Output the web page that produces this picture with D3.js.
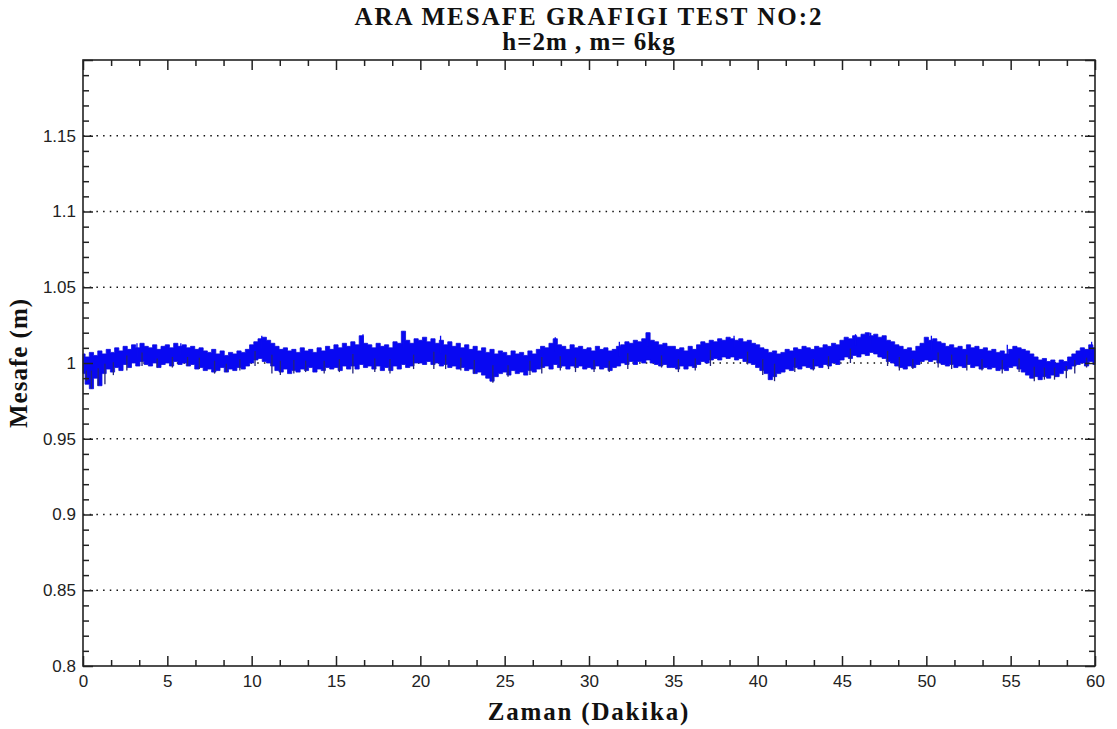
<!DOCTYPE html>
<html>
<head>
<meta charset="utf-8">
<script src="https://cdn.jsdelivr.net/npm/d3@7"></script>
<style>
  body { margin: 0; background: #fff; }
  svg { display: block; }
  .tick text { font-family: "Liberation Sans", Arial, sans-serif; font-size: 17px; fill: #222; }
  .domain { display: none; }
  .tick line { stroke: #222; stroke-width: 1.5; }
  .grid line { stroke: #111; stroke-width: 1.3; stroke-dasharray: 1.5 5.2; }
  .ttl { font-family: "Liberation Serif", "Times New Roman", serif; font-weight: bold; fill: #111; }
</style>
</head>
<body>
<svg id="chart" width="1117" height="729"></svg>
<script>
var TITLE_LINES = ['ARA MESAFE GRAFIGI TEST NO:2', 'h=2m , m= 6kg'];
var X_LABEL = 'Zaman (Dakika)';
var Y_LABEL = 'Mesafe (m)';
var X_TICKS = [0, 5, 10, 15, 20, 25, 30, 35, 40, 45, 50, 55, 60];
var Y_TICKS = [0.8, 0.85, 0.9, 0.95, 1, 1.05, 1.1, 1.15, 1.2];
var Y_TICK_LABELS = ['0.8', '0.85', '0.9', '0.95', '1', '1.05', '1.1', '1.15', ''];
var GRID_VALUES = [0.85, 0.9, 0.95, 1, 1.05, 1.1, 1.15];
var SAMPLE_STEP = 0.25; // minutes between envelope readings

// upper edge of the noisy band, read every 0.25 min (one row = 5 min)
var upper = [
  1.006,1.004,1.007,1.005,1.008,1.006,1.009,1.007,1.010,1.008,1.011,1.009,1.012,1.010,1.013,1.011,1.010,1.012,1.009,1.011,
  1.012,1.010,1.013,1.011,1.012,1.010,1.011,1.009,1.010,1.008,1.007,1.009,1.006,1.008,1.005,1.007,1.006,1.008,1.007,1.009,
  1.012,1.014,1.016,1.017,1.015,1.013,1.011,1.009,1.010,1.008,1.009,1.007,1.010,1.008,1.009,1.007,1.010,1.008,1.011,1.009,
  1.012,1.010,1.013,1.011,1.014,1.012,1.018,1.013,1.012,1.010,1.013,1.011,1.012,1.010,1.014,1.013,1.021,1.015,1.013,1.016,
  1.015,1.017,1.014,1.016,1.013,1.015,1.012,1.014,1.011,1.013,1.010,1.012,1.009,1.011,1.008,1.010,1.007,1.009,1.006,1.008,
  1.007,1.005,1.008,1.006,1.007,1.005,1.008,1.006,1.009,1.011,1.010,1.013,1.016,1.012,1.011,1.009,1.012,1.010,1.011,1.009,
  1.010,1.008,1.011,1.009,1.010,1.008,1.009,1.011,1.012,1.014,1.013,1.015,1.014,1.016,1.020,1.015,1.014,1.012,1.013,1.011,
  1.011,1.009,1.010,1.008,1.011,1.009,1.012,1.014,1.013,1.015,1.014,1.016,1.015,1.017,1.016,1.015,1.016,1.014,1.015,1.013,
  1.012,1.010,1.009,1.007,1.008,1.006,1.007,1.009,1.008,1.010,1.009,1.011,1.010,1.009,1.011,1.010,1.012,1.011,1.013,1.012,
  1.015,1.017,1.016,1.018,1.017,1.019,1.020,1.018,1.019,1.017,1.018,1.015,1.014,1.012,1.011,1.009,1.010,1.008,1.011,1.013,
  1.017,1.015,1.016,1.014,1.013,1.011,1.012,1.010,1.011,1.009,1.012,1.010,1.011,1.009,1.010,1.008,1.009,1.007,1.008,1.006,
  1.009,1.011,1.010,1.009,1.008,1.006,1.004,1.002,1.003,1.001,1.002,1.000,1.002,1.001,1.004,1.006,1.008,1.010,1.009,1.012,
  1.010
];
// lower edge of the band, same sampling
var lower = [
  0.993,0.986,0.983,0.990,0.985,0.993,0.996,0.994,0.997,0.995,0.999,0.997,1.000,0.998,1.001,0.999,0.998,1.000,0.997,0.999,
  1.000,0.998,1.001,0.999,1.000,0.998,0.999,0.996,0.997,0.995,0.996,0.994,0.995,0.997,0.994,0.996,0.995,0.997,0.996,0.998,
  1.000,1.002,1.003,1.001,1.000,0.998,0.995,0.994,0.996,0.993,0.995,0.994,0.996,0.995,0.997,0.994,0.996,0.995,0.997,0.996,
  0.997,0.995,0.998,0.996,0.998,0.996,0.999,0.997,0.998,0.996,0.998,0.995,0.997,0.995,0.998,0.996,0.999,0.997,0.998,1.000,
  1.000,0.999,1.001,0.999,1.000,0.998,0.999,0.997,0.998,0.996,0.997,0.995,0.996,0.993,0.994,0.992,0.990,0.988,0.991,0.993,
  0.994,0.992,0.995,0.993,0.994,0.992,0.995,0.994,0.996,0.997,0.998,0.996,0.999,0.997,0.998,0.996,0.998,0.997,0.998,0.996,
  0.997,0.996,0.998,0.996,0.997,0.995,0.997,0.998,1.000,0.999,1.001,0.999,1.001,1.000,1.002,1.000,0.999,0.998,0.999,0.997,
  0.997,0.996,0.998,0.996,0.998,0.997,0.999,1.001,1.000,1.002,1.003,1.002,1.004,1.003,1.004,1.002,1.003,1.001,1.000,0.999,
  0.997,0.995,0.993,0.989,0.991,0.993,0.994,0.996,0.995,0.997,0.996,0.998,0.997,0.996,0.998,0.997,0.999,0.998,1.000,0.999,
  1.002,1.004,1.003,1.005,1.004,1.006,1.005,1.007,1.006,1.004,1.003,1.001,1.000,0.998,0.997,0.996,0.998,0.997,0.999,1.001,
  1.002,1.001,1.002,1.000,0.999,0.998,0.999,0.997,0.998,0.997,0.999,0.997,0.998,0.996,0.997,0.996,0.997,0.995,0.996,0.995,
  0.997,0.998,0.996,0.994,0.992,0.990,0.991,0.989,0.991,0.990,0.992,0.991,0.993,0.995,0.996,0.998,0.999,1.000,0.998,1.001,
  0.999
];
// isolated spikes that stick out of the band: time (min) and tip value
var spikeTimes = [
  0.2, 0.5, 0.9, 1.3, 1.8, 2.6, 3.2, 3.5, 4.4, 5.3, 5.8, 6.2, 6.9, 7.8, 8.5, 9.3,
  10.2, 10.6, 11.2, 11.7, 12.5, 13.2, 14.3, 15.2, 16.0, 16.6, 17.3, 18.2, 19.0, 19.6,
  20.8, 21.2, 21.5, 22.4, 23.2, 24.3, 25.2, 26.5, 27.2, 28.0, 28.3, 29.2, 30.3, 31.2,
  31.8, 32.3, 33.5, 34.3, 35.3, 36.3, 37.2, 38.6, 39.4, 40.3, 41.0, 42.2, 43.3, 44.2,
  45.5, 45.8, 46.7, 47.7, 48.4, 49.2, 50.3, 50.7, 51.5, 52.4, 53.3, 54.5, 54.8, 55.5,
  56.4, 57.0, 57.6, 58.3, 58.8, 59.5, 59.8
];
var spikeValues = [
  0.988, 0.983, 0.985, 0.986, 0.992, 0.995, 1.013, 0.998, 0.997, 0.997, 1.013, 0.998, 0.996, 0.993, 0.994, 0.995,
  0.998, 1.018, 0.993, 0.992, 0.993, 0.994, 0.993, 0.994, 0.993, 1.019, 0.994, 0.993, 1.021, 0.996,
  0.996, 1.018, 0.996, 0.995, 0.993, 0.987, 0.991, 0.992, 0.993, 1.017, 0.995, 0.994, 0.994, 0.994,
  1.014, 0.996, 1.020, 0.997, 0.994, 0.995, 0.998, 1.018, 0.999, 0.992, 0.988, 0.994, 0.995, 0.996,
  1.000, 1.019, 1.020, 0.998, 0.995, 0.996, 1.018, 0.997, 0.996, 0.995, 0.995, 0.993, 1.012, 0.994,
  0.988, 0.989, 0.989, 0.990, 0.993, 0.997, 1.014
];

var margin = { left: 83, right: 22, top: 60, bottom: 63 };
var svg = d3.select('#chart');
var width = +svg.attr('width') - margin.left - margin.right;
var height = +svg.attr('height') - margin.top - margin.bottom;

var xScale = d3.scaleLinear().domain([0, 60]).range([0, width]);
var yScale = d3.scaleLinear().domain([0.8, 1.2]).range([height, 0]);

var g = svg.append('g').attr('transform', 'translate(' + margin.left + ',' + margin.top + ')');

// dotted horizontal grid
g.append('g').attr('class', 'grid').selectAll('line').data(GRID_VALUES).enter().append('line').
    attr('x1', 0).attr('x2', width).
    attr('y1', function (d) { return yScale(d); }).attr('y2', function (d) { return yScale(d); });

// signal band
var samples = upper.map(function (u, i) { return { t: i * SAMPLE_STEP, hi: u, lo: lower[i] }; });
var band = d3.area().
    curve(d3.curveStep).
    x(function (d) { return xScale(d.t); }).
    y0(function (d) { return yScale(d.lo); }).
    y1(function (d) { return yScale(d.hi); });
g.append('path').datum(samples).
    attr('d', band).
    attr('fill', '#0808f2').
    attr('stroke', '#0c0ce0').
    attr('stroke-width', 0.8);

// spikes from the band centre to their tip; the ones below the band show as dark tips
var spikes = spikeTimes.map(function (t, i) {
    var k = Math.round(t / SAMPLE_STEP);
    return { t: t, v: spikeValues[i], base: (upper[k] + lower[k]) / 2 };
});
g.append('g').selectAll('line').data(spikes).enter().append('line').
    attr('x1', function (d) { return xScale(d.t); }).attr('x2', function (d) { return xScale(d.t); }).
    attr('y1', function (d) { return yScale(d.base); }).attr('y2', function (d) { return yScale(d.v); }).
    attr('stroke', function (d) { return d.v < d.base ? '#24247c' : '#0a0af0'; }).
    attr('stroke-width', 1.3);

// minor tick positions
var xMinor = d3.range(0, 60.001, 5 / 3).filter(function (v) { return Math.abs(v / 5 - Math.round(v / 5)) > 1e-6; });
var yMinor = d3.range(0.8, 1.2001, 0.01).filter(function (v) { return Math.abs(v / 0.05 - Math.round(v / 0.05)) > 1e-6; });

function addAxis(axis, transform) {
    return g.append('g').attr('transform', transform || null).call(axis);
}

// major axes with labels (ticks pointing inward)
addAxis(d3.axisBottom(xScale).tickValues(X_TICKS).tickFormat(d3.format('d')).tickSize(-10).tickPadding(9), 'translate(0,' + height + ')');
addAxis(d3.axisLeft(yScale).tickValues(Y_TICKS).tickFormat(function (d, i) { return Y_TICK_LABELS[i]; }).tickSize(-10).tickPadding(7));
// mirrored majors on top/right
addAxis(d3.axisTop(xScale).tickValues(X_TICKS).tickFormat('').tickSize(-10));
addAxis(d3.axisRight(yScale).tickValues(Y_TICKS).tickFormat('').tickSize(-10), 'translate(' + width + ',0)');
// minors on all sides
addAxis(d3.axisBottom(xScale).tickValues(xMinor).tickFormat('').tickSize(-6), 'translate(0,' + height + ')');
addAxis(d3.axisTop(xScale).tickValues(xMinor).tickFormat('').tickSize(-6));
addAxis(d3.axisLeft(yScale).tickValues(yMinor).tickFormat('').tickSize(-6));
addAxis(d3.axisRight(yScale).tickValues(yMinor).tickFormat('').tickSize(-6), 'translate(' + width + ',0)');

// frame
g.append('rect').attr('width', width).attr('height', height).
    attr('fill', 'none').attr('stroke', '#222').attr('stroke-width', 1.6);

// titles
var cx = margin.left + width / 2;
svg.append('text').attr('class', 'ttl').attr('x', cx).attr('y', 25).
    attr('text-anchor', 'middle').style('font-size', '25px').style('letter-spacing', '2px').text(TITLE_LINES[0]);
svg.append('text').attr('class', 'ttl').attr('x', cx).attr('y', 50).
    attr('text-anchor', 'middle').style('font-size', '25px').style('letter-spacing', '1px').text(TITLE_LINES[1]);
svg.append('text').attr('class', 'ttl').attr('x', cx).attr('y', 720).
    attr('text-anchor', 'middle').style('font-size', '25px').style('letter-spacing', '1.8px').text(X_LABEL);
svg.append('text').attr('class', 'ttl').
    attr('transform', 'translate(27,' + (margin.top + height / 2) + ')rotate(-90)').
    attr('text-anchor', 'middle').style('font-size', '25px').style('letter-spacing', '1px').text(Y_LABEL);
</script>
</body>
</html>
